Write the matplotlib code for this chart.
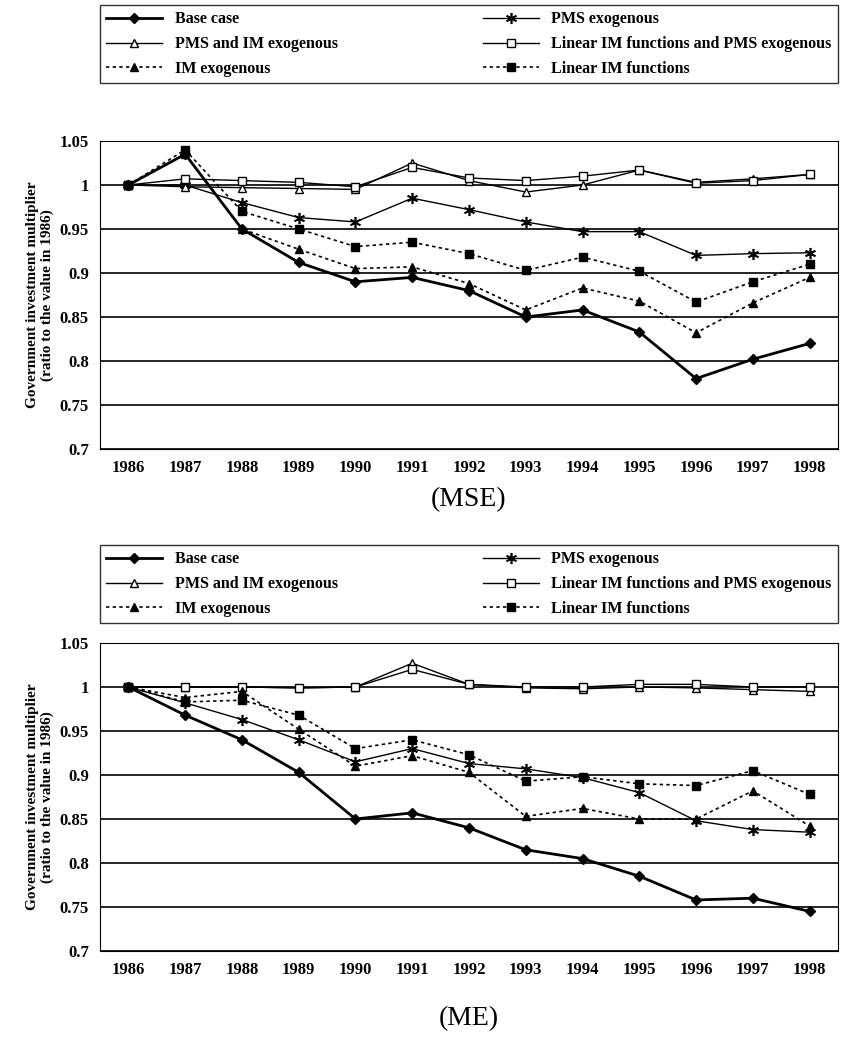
import matplotlib.pyplot as plt

plt.rcParams['font.family'] = ['Liberation Serif', 'DejaVu Serif']

years = list(range(1986, 1999))
labels = ["Base case", "PMS exogenous", "PMS and IM exogenous",
          "Linear IM functions and PMS exogenous", "IM exogenous", "Linear IM functions"]

mse_base = [1, 1.035, 0.95, 0.912, 0.89, 0.895, 0.88, 0.85, 0.858, 0.833, 0.78, 0.802, 0.82]
mse_pms = [1, 1.0, 0.98, 0.963, 0.958, 0.985, 0.972, 0.958, 0.947, 0.947, 0.92, 0.922, 0.923]
mse_pms_im = [1, 0.998, 0.997, 0.996, 0.995, 1.025, 1.005, 0.992, 1.0, 1.017, 1.003, 1.007, 1.012]
mse_lin_pms = [1, 1.007, 1.005, 1.003, 0.998, 1.02, 1.008, 1.005, 1.01, 1.017, 1.002, 1.005, 1.012]
mse_im = [1, 1.035, 0.95, 0.927, 0.905, 0.907, 0.888, 0.858, 0.883, 0.868, 0.832, 0.866, 0.895]
mse_lin = [1, 1.04, 0.97, 0.95, 0.93, 0.935, 0.922, 0.903, 0.918, 0.902, 0.867, 0.89, 0.91]

me_base = [1, 0.968, 0.94, 0.903, 0.85, 0.857, 0.84, 0.815, 0.805, 0.785, 0.758, 0.76, 0.745]
me_pms = [1, 0.982, 0.963, 0.94, 0.915, 0.93, 0.913, 0.907, 0.897, 0.88, 0.848, 0.838, 0.835]
me_pms_im = [1, 1.0, 1.0, 0.999, 1.0, 1.027, 1.003, 0.999, 0.998, 1.0, 0.999, 0.997, 0.995]
me_lin_pms = [1, 1.0, 1.0, 0.999, 1.0, 1.02, 1.003, 1.0, 1.0, 1.003, 1.003, 1.0, 1.0]
me_im = [1, 0.988, 0.995, 0.952, 0.91, 0.922, 0.903, 0.853, 0.862, 0.85, 0.85, 0.882, 0.842]
me_lin = [1, 0.983, 0.985, 0.968, 0.93, 0.94, 0.923, 0.893, 0.898, 0.89, 0.888, 0.905, 0.878]

styles = [
    dict(marker="D", ls="-", lw=2.0, ms=5, mfc="black"),
    dict(marker=(6, 2, 0), ls="-", lw=1.0, ms=8, mew=1.2),
    dict(marker="^", ls="-", lw=1.0, ms=6, mfc="white"),
    dict(marker="s", ls="-", lw=1.0, ms=6, mfc="white"),
    dict(marker="^", ls=(0, (2, 2)), lw=1.2, ms=6, mfc="black"),
    dict(marker="s", ls=(0, (2, 2)), lw=1.2, ms=6, mfc="black"),
]

fig = plt.figure(figsize=(8.41, 10.56), dpi=100)
W, H = 841, 1056


def panel(ax_top, leg_top, series, title, pad):
    ax = fig.add_axes([100 / W, 1 - (ax_top + 308) / H, 738 / W, 308 / H])
    for vals, lab, st in zip(series, labels, styles):
        ax.plot(years, vals, color="black", label=lab, **st)
    ax.set_ylim(0.7, 1.05)
    ax.set_xlim(1985.5, 1998.5)
    ax.set_xticks(years)
    ax.set_yticks([0.7, 0.75, 0.8, 0.85, 0.9, 0.95, 1, 1.05])
    ax.set_yticklabels(["0.7", "0.75", "0.8", "0.85", "0.9", "0.95", "1", "1.05"])
    ax.yaxis.grid(True, color="black", lw=1.2)
    ax.tick_params(length=0, labelsize=12, pad=8)
    for t in ax.get_xticklabels() + ax.get_yticklabels():
        t.set_fontweight("bold")
    ax.set_ylabel("Government investment multiplier\n(ratio to the value in 1986)",
                  fontsize=11, fontweight="bold")
    ax.set_xlabel(title, fontsize=20, labelpad=pad)
    h, l = ax.get_legend_handles_labels()
    order = [0, 2, 4, 1, 3, 5]
    fig.legend([h[i] for i in order], [l[i] for i in order], loc="upper left", ncol=2,
               frameon=True, fancybox=False, edgecolor="black",
               prop={"weight": "bold", "size": 11.5},
               bbox_to_anchor=(100 / W, 1 - leg_top / H, 738 / W, 0),
               mode="expand", borderaxespad=0, handlelength=3.5, labelspacing=0.55)
    return ax


panel(141, 5, [mse_base, mse_pms, mse_pms_im, mse_lin_pms, mse_im, mse_lin], "(MSE)", 8)
panel(643, 545, [me_base, me_pms, me_pms_im, me_lin_pms, me_im, me_lin], "(ME)", 20)

fig.savefig("out.png", dpi=100)
